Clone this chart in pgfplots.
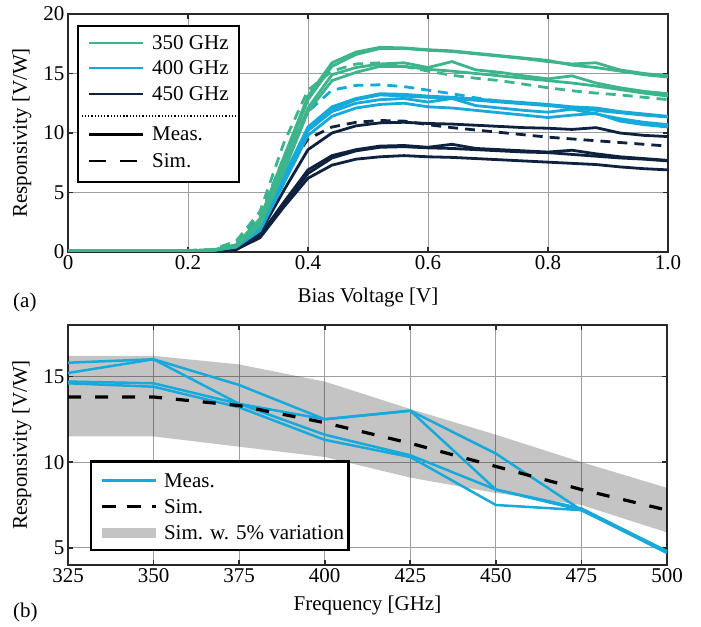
\documentclass[border=0pt]{standalone}
\usepackage{fontspec}
\setmainfont{Liberation Serif}
\usepackage{pgfplots}
\usepackage{pgfplotstable}
\pgfplotsset{compat=1.18}

\definecolor{cg}{RGB}{61,181,139}
\definecolor{cb}{RGB}{22,169,219}
\definecolor{cn}{RGB}{14,34,64}
\definecolor{frame}{RGB}{40,40,40}

% bias sweep, 350 GHz: four measured curves and the simulation
\pgfplotstableread{
x    m1    m2    m3    m4    sim
0.00 0.12  0.12  0.12  0.12  0.12
0.04 0.12  0.12  0.12  0.12  0.12
0.08 0.12  0.12  0.12  0.12  0.12
0.12 0.12  0.12  0.12  0.12  0.12
0.16 0.12  0.12  0.12  0.12  0.12
0.20 0.12  0.12  0.12  0.12  0.14
0.24 0.15  0.15  0.15  0.15  0.20
0.28 0.60  0.55  0.50  0.45  0.90
0.32 2.80  2.60  2.40  2.20  3.40
0.36 8.00  7.70  7.20  6.80  9.20
0.40 13.1  12.8  12.1  11.8  13.6
0.44 15.9  15.6  14.9  14.4  15.2
0.48 16.8  16.6  15.5  15.1  15.8
0.52 17.2  17.1  15.8  15.6  15.9
0.56 17.15 17.1  15.9  15.6  15.6
0.60 17.0  16.95 15.5  15.35 15.2
0.64 16.9  16.85 16.0  15.2  14.85
0.68 16.7  16.65 15.3  15.0  14.6
0.72 16.5  16.45 15.1  14.8  14.4
0.76 16.3  16.25 14.8  14.6  14.1
0.80 16.1  16.0  14.55 14.4  13.8
0.84 15.7  15.8  14.8  14.2  13.55
0.88 15.5  15.9  14.2  13.95 13.35
0.92 15.2  15.3  13.8  13.65 13.2
0.96 14.9  15.0  13.5  13.35 13.0
1.00 14.7  14.8  13.3  13.1  12.8
}\tgreen

% 400 GHz
\pgfplotstableread{
x    m1    m2    m3    m4    sim
0.00 0.10  0.10  0.10  0.10  0.10
0.04 0.10  0.10  0.10  0.10  0.10
0.08 0.10  0.10  0.10  0.10  0.10
0.12 0.10  0.10  0.10  0.10  0.10
0.16 0.10  0.10  0.10  0.10  0.10
0.20 0.10  0.10  0.10  0.10  0.12
0.24 0.12  0.12  0.12  0.12  0.18
0.28 0.50  0.45  0.40  0.45  0.80
0.32 2.00  1.90  1.80  2.00  3.00
0.36 6.40  6.10  5.80  6.30  8.00
0.40 10.5  10.2  9.80  10.4  11.8
0.44 12.2  11.8  11.4  12.0  13.6
0.48 12.9  12.5  12.1  12.8  14.0
0.52 13.3  12.8  12.4  13.2  14.05
0.56 13.25 12.9  12.5  13.1  13.9
0.60 13.1  12.6  12.2  13.0  13.6
0.64 13.0  12.9  12.1  12.9  13.3
0.68 12.85 12.3  11.9  12.75 12.95
0.72 12.7  12.1  11.7  12.6  12.65
0.76 12.55 11.9  11.5  12.45 12.5
0.80 12.4  11.75 11.3  12.3  12.35
0.84 12.2  12.0  11.5  12.1  12.15
0.88 12.1  11.6  11.65 11.9  12.0
0.92 11.8  11.2  11.0  11.7  11.75
0.96 11.6  10.9  10.7  11.5  11.55
1.00 11.4  10.7  10.5  11.35 11.35
}\tblue

% 450 GHz
\pgfplotstableread{
x    m1    m2    m3    m4    sim
0.00 0.10  0.10  0.10  0.10  0.10
0.04 0.10  0.10  0.10  0.10  0.10
0.08 0.10  0.10  0.10  0.10  0.10
0.12 0.10  0.10  0.10  0.10  0.10
0.16 0.10  0.10  0.10  0.10  0.10
0.20 0.10  0.10  0.10  0.10  0.10
0.24 0.10  0.10  0.10  0.10  0.15
0.28 0.30  0.25  0.20  0.20  0.60
0.32 1.60  1.40  1.30  1.20  2.40
0.36 5.20  4.20  4.00  3.80  6.50
0.40 8.60  6.90  6.60  6.20  9.50
0.44 10.0  8.10  7.90  7.30  10.5
0.48 10.6  8.60  8.50  7.80  10.9
0.52 10.85 8.90  8.80  8.00  11.05
0.56 10.9  8.95  8.85  8.10  11.0
0.60 10.8  8.80  8.75  8.00  10.7
0.64 10.75 9.05  8.70  7.95  10.45
0.68 10.65 8.70  8.60  7.85  10.25
0.72 10.55 8.60  8.50  7.75  10.05
0.76 10.45 8.50  8.40  7.65  9.85
0.80 10.4  8.40  8.35  7.55  9.65
0.84 10.3  8.55  8.20  7.45  9.5
0.88 10.45 8.25  8.05  7.35  9.35
0.92 10.0  8.00  7.90  7.15  9.2
0.96 9.80  7.85  7.80  7.00  9.05
1.00 9.70  7.70  7.65  6.90  8.9
}\tnavy

% frequency sweep
\pgfplotstableread{
f    m1   m2   m3   m4   sim
325  15.8 15.2 14.7 14.6 13.8
350  16.0 16.0 14.6 14.4 13.8
375  14.5 13.4 13.4 13.2 13.3
400  12.5 12.5 11.6 11.3 12.3
425  13.0 13.0 10.4 10.3 11.1
450  10.5 8.4  8.4  7.5  9.75
475  7.2  7.3  7.2  7.2  8.4
500  4.8  4.8  4.7  4.8  7.2
}\tfreq

% 5% band: upper edge forward, lower edge back
\pgfplotstableread{
f    v
325  16.2
350  16.2
375  15.7
400  14.7
425  13.1
450  11.6
475  10.0
500  8.5
500  5.9
475  7.5
450  8.2
425  9.1
400  10.3
375  10.9
350  11.5
325  11.5
}\tband

\tikzset{
  meas/.style={line width=2.8bp},
  simd/.style={line width=2.8bp, dash pattern=on 10bp off 7bp},
}
\pgfplotsset{
  myax/.style={
    scale only axis,
    font=\fontsize{21bp}{25bp}\selectfont,
    /pgf/number format/assume math mode=true,
    grid=major,
    grid style={line width=1bp, black!38},
    axis line style={line width=2.8bp, frame},
    tick style={line width=1.6bp, frame},
    major tick length=5bp,
    tick align=inside,
  },
}

\begin{document}
\begin{tikzpicture}
\useasboundingbox (0,0) rectangle (701bp,627bp);

% ---------------- (a) ----------------
\begin{axis}[myax,
  at={(68bp,375bp)}, anchor=south west,
  width=600bp, height=238bp,
  xmin=0, xmax=1, ymin=0, ymax=20,
  xtick={0,0.2,0.4,0.6,0.8,1.0},
  xticklabels={0,0.2,0.4,0.6,0.8,1.0},
  ytick={0,5,10,15,20},
  xlabel={Bias Voltage [V]},
  ylabel={Responsivity [V/W]},
  xlabel style={at={(axis description cs:0.5,-0.19)}, anchor=center},
  ylabel style={at={(axis description cs:-0.077,0.5)}, anchor=center},
]
\foreach \c in {m1,m2,m3,m4} {
  \addplot[meas, cn] table[x=x, y=\c] {\tnavy};
}
\addplot[simd, cn] table[x=x, y=sim] {\tnavy};
\foreach \c in {m1,m2,m3,m4} {
  \addplot[meas, cb] table[x=x, y=\c] {\tblue};
}
\addplot[simd, cb] table[x=x, y=sim] {\tblue};
\foreach \c in {m1,m2,m3,m4} {
  \addplot[meas, cg] table[x=x, y=\c] {\tgreen};
}
\addplot[simd, cg] table[x=x, y=sim] {\tgreen};

% legend
\draw[line width=2.6bp, black, fill=white] (0.0167,5.88) rectangle (0.285,19.0);
\draw[meas, cg] (0.035,17.56) -- (0.125,17.56);
\draw[meas, cb] (0.035,15.46) -- (0.125,15.46);
\draw[meas, cn] (0.035,13.28) -- (0.125,13.28);
\node[anchor=west, inner sep=0pt] at (0.14,17.56) {350 GHz};
\node[anchor=west, inner sep=0pt] at (0.14,15.46) {400 GHz};
\node[anchor=west, inner sep=0pt] at (0.14,13.28) {450 GHz};
\draw[line width=1.2bp, dotted, black] (0.023,11.43) -- (0.279,11.43);
\draw[meas, black] (0.035,9.9) -- (0.125,9.9);
\draw[meas, black, dash pattern=on 17bp off 14bp] (0.035,7.65) -- (0.125,7.65);
\node[anchor=west, inner sep=0pt] at (0.14,9.9) {Meas.};
\node[anchor=west, inner sep=0pt] at (0.14,7.65) {Sim.};
\end{axis}

% ---------------- (b) ----------------
\begin{axis}[myax,
  at={(68bp,62bp)}, anchor=south west,
  width=599bp, height=240bp,
  xmin=325, xmax=500, ymin=4, ymax=18,
  xtick={325,350,375,400,425,450,475,500},
  ytick={5,10,15},
  xlabel={Frequency [GHz]},
  ylabel={Responsivity [V/W]},
  xlabel style={at={(axis description cs:0.5,-0.17)}, anchor=center},
  ylabel style={at={(axis description cs:-0.077,0.5)}, anchor=center},
]
\addplot[fill=black, fill opacity=0.23, draw=none] table[x=f, y=v] {\tband};
\foreach \c in {m1,m2,m3,m4} {
  \addplot[line width=2.5bp, cb] table[x=f, y=\c] {\tfreq};
}
\addplot[line width=3.2bp, black, dash pattern=on 13bp off 14bp] table[x=f, y=sim] {\tfreq};

% legend
\draw[line width=2.6bp, black, fill=white] (331.7,4.88) rectangle (406.9,10.03);
\draw[line width=2.5bp, cb] (334.8,8.94) -- (350.7,8.94);
\draw[line width=3.2bp, black, dash pattern=on 14bp off 11bp] (334.8,7.40) -- (350.7,7.40);
\fill[black!23] (334.8,5.58) rectangle (350.7,6.18);
\node[anchor=west, inner sep=0pt] at (353,8.94) {Meas.};
\node[anchor=west, inner sep=0pt] at (353,7.40) {Sim.};
\node[anchor=west, inner sep=0pt] at (353,5.88) {Sim. w. 5\% variation};
\end{axis}

\node[anchor=west, inner sep=0pt, font=\fontsize{21bp}{25bp}\selectfont] at (13bp,325bp) {(a)};
\node[anchor=west, inner sep=0pt, font=\fontsize{21bp}{25bp}\selectfont] at (13bp,15bp) {(b)};
\end{tikzpicture}
\end{document}
